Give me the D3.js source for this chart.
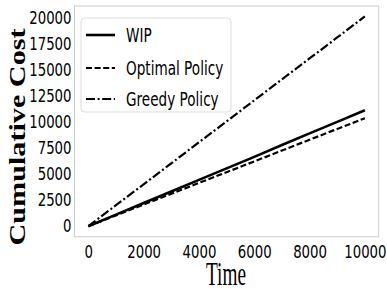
<!DOCTYPE html>
<html>
<head>
<meta charset="utf-8">
<script src="https://cdnjs.cloudflare.com/ajax/libs/d3/7.8.5/d3.min.js"></script>
<style>
  html, body { margin: 0; padding: 0; background: #fff; }
  svg { display: block; }
</style>
</head>
<body>
<svg id="chart" width="387" height="289"></svg>
<script>
// Values
var times = [0, 1000, 2000, 3000, 4000, 5000, 6000, 7000, 8000, 9000, 10000];
var wipCost = [0, 1110, 2220, 3330, 4440, 5540, 6650, 7780, 8900, 10000, 11120];
var optimalCost = [0, 1040, 2080, 3110, 4150, 5180, 6210, 7250, 8290, 9320, 10350];
var greedyCost = [0, 2010, 4020, 6030, 8040, 10050, 12060, 14070, 16080, 18090, 20100];
var seriesNames = ["WIP", "Optimal Policy", "Greedy Policy"];
var xTicks = [0, 2000, 4000, 6000, 8000, 10000];
var yTicks = [0, 2500, 5000, 7500, 10000, 12500, 15000, 17500, 20000];

// the whole reference is squashed sideways, so text gets a scaleX
var SQ = 0.76;

function renderCostGraph(targetElement) {
  var svg = d3.select(targetElement),
    box = {left: 74.5, right: 378.7, top: 6, bottom: 236.7};

  // matplotlib-style 5% margins around the data
  var x = d3.scaleLinear().domain([-500, 10500]).range([box.left, box.right]);
  var y = d3.scaleLinear().domain([-1005, 21105]).range([box.bottom, box.top]);

  var streams = [
    {name: seriesNames[0], values: wipCost, dash: null, width: 2.6},
    {name: seriesNames[1], values: optimalCost, dash: "6,2.6", width: 2.2},
    {name: seriesNames[2], values: greedyCost, dash: "9,2.6,2,2.6", width: 2.2}
  ];

  var line = d3.line()
    .x(function(d, i) { return x(times[i]); })
    .y(function(d) { return y(d); });

  // Axes frame
  svg.append("rect")
    .attr("x", box.left).attr("y", box.top)
    .attr("width", box.right - box.left)
    .attr("height", box.bottom - box.top)
    .attr("fill", "none")
    .attr("stroke", "#cccccc")
    .attr("stroke-width", 1);

  // X Axis
  var gx = svg.append("g")
    .attr("transform", "translate(0, " + box.bottom + ")")
    .call(d3.axisBottom(x).tickValues(xTicks).tickSize(0).tickPadding(0).tickFormat(d3.format("d")));
  gx.select(".domain").remove();
  gx.selectAll("text")
    .attr("font-family", "DejaVu Sans")
    .attr("font-size", 17.5)
    .attr("fill", "#000")
    .attr("y", 16)
    .attr("dy", 0)
    .attr("dominant-baseline", "central")
    .attr("transform", "scale(" + SQ + ",1)");

  // Y Axis
  var gy = svg.append("g")
    .attr("transform", "translate(" + box.left + ", 0)")
    .call(d3.axisLeft(y).tickValues(yTicks).tickSize(0).tickPadding(0).tickFormat(d3.format("d")));
  gy.select(".domain").remove();
  gy.selectAll("text")
    .attr("font-family", "DejaVu Sans")
    .attr("font-size", 17.5)
    .attr("fill", "#000")
    .attr("x", -3 / SQ)
    .attr("dy", 0)
    .attr("dominant-baseline", "central")
    .attr("transform", "scale(" + SQ + ",1)");

  streams.forEach(function(s) {
    svg.append("path")
      .datum(s.values)
      .attr("d", line)
      .attr("fill", "none")
      .attr("stroke", "#000")
      .attr("stroke-width", s.width)
      .attr("stroke-dasharray", s.dash);
  });

  // Legend
  var lg = svg.append("g");
  lg.append("rect")
    .attr("x", 81).attr("y", 18)
    .attr("width", 150).attr("height", 94)
    .attr("rx", 4)
    .attr("fill", "#fff")
    .attr("fill-opacity", 0.8)
    .attr("stroke", "#dddddd");
  var rows = [35, 68, 99];
  streams.forEach(function(s, i) {
    lg.append("line")
      .attr("x1", 86).attr("x2", 115)
      .attr("y1", rows[i]).attr("y2", rows[i])
      .attr("stroke", "#000")
      .attr("stroke-width", s.width)
      .attr("stroke-dasharray", s.dash);
    lg.append("text")
      .attr("transform", "translate(126," + rows[i] + ") scale(0.68,1)")
      .attr("font-family", "DejaVu Sans")
      .attr("font-size", 20)
      .attr("dominant-baseline", "central")
      .text(s.name);
  });

  // Axis titles
  svg.append("text")
    .attr("transform", "translate(226, 285)")
    .attr("text-anchor", "middle")
    .attr("font-family", "Liberation Serif")
    .attr("font-size", 34)
    .attr("textLength", 40)
    .attr("lengthAdjust", "spacingAndGlyphs")
    .text("Time");

  svg.append("text")
    .attr("transform", "translate(25, 137) scale(0.7,1) rotate(-90)")
    .attr("text-anchor", "middle")
    .attr("font-family", "Liberation Serif")
    .attr("font-weight", "bold")
    .attr("font-size", 32.6)
    .attr("textLength", 217)
    .attr("lengthAdjust", "spacingAndGlyphs")
    .text("Cumulative Cost");
}

renderCostGraph("#chart");
</script>
</body>
</html>
